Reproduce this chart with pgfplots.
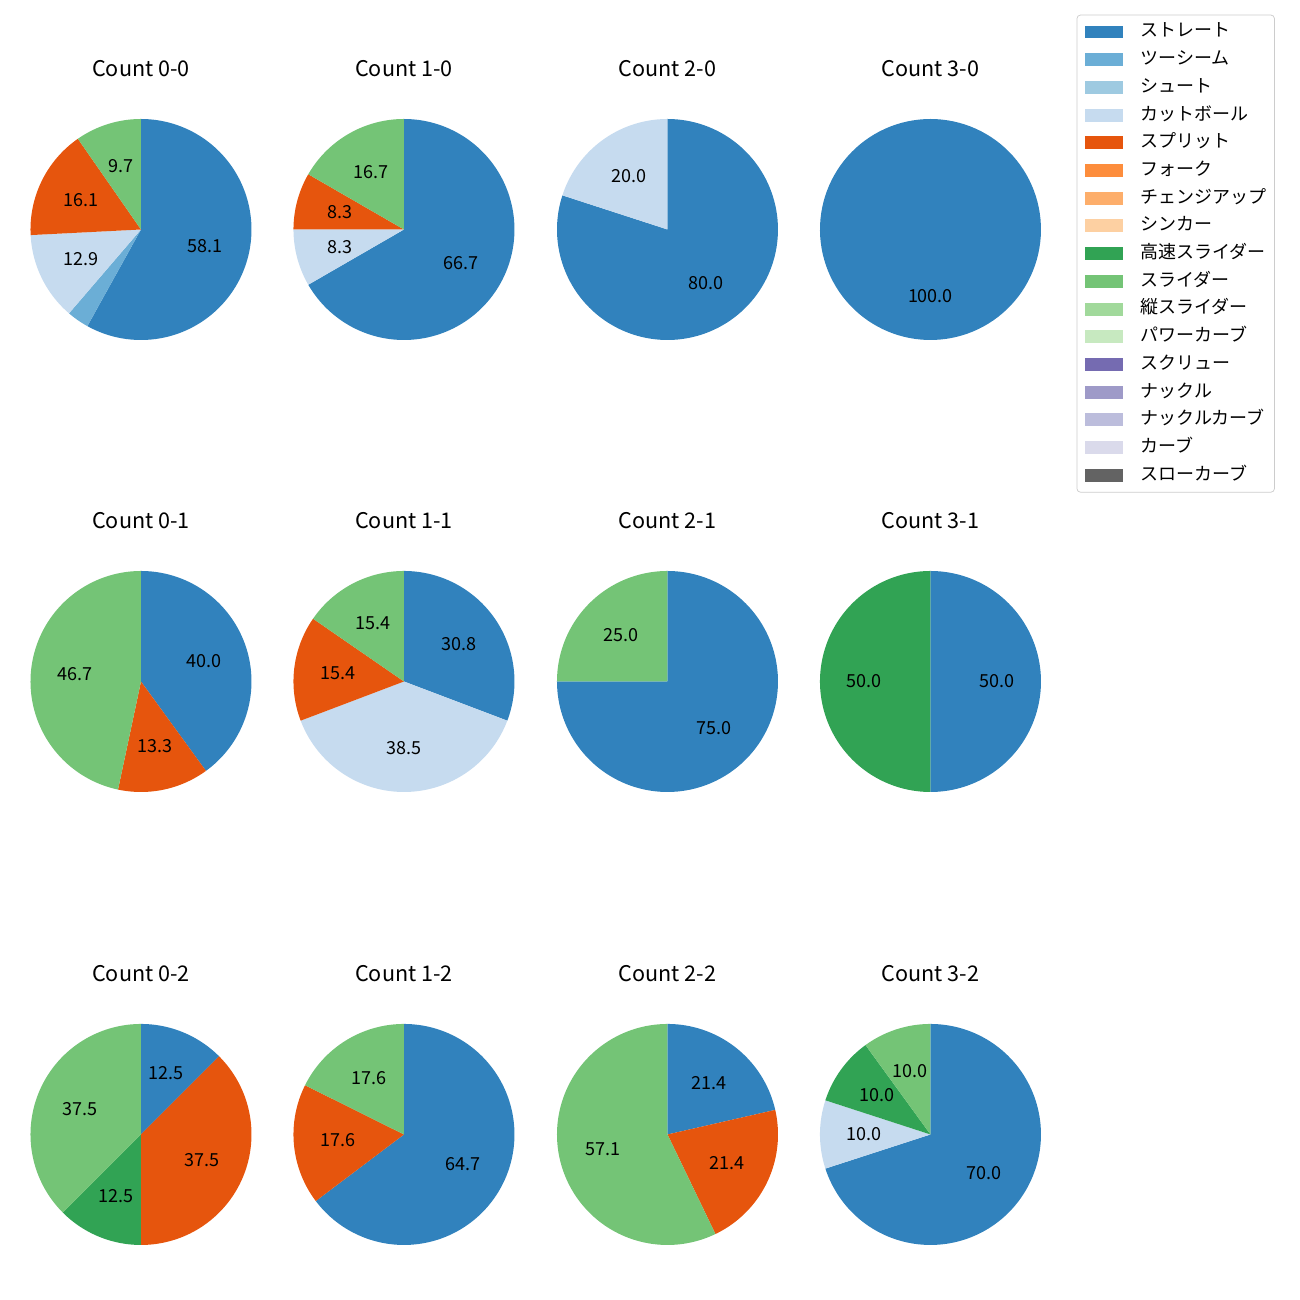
\documentclass[border=0pt]{standalone}
\usepackage{pgfplots}
\pgfplotsset{compat=1.18}
\usepackage{fontspec}
\setmainfont{Noto Sans CJK JP}
\definecolor{cS}{HTML}{3182BD}
\definecolor{cTS}{HTML}{6BAED6}
\definecolor{cSH}{HTML}{9ECAE1}
\definecolor{cCT}{HTML}{C6DBEF}
\definecolor{cSP}{HTML}{E6550D}
\definecolor{cFK}{HTML}{FD8D3C}
\definecolor{cCH}{HTML}{FDAE6B}
\definecolor{cSI}{HTML}{FDD0A2}
\definecolor{cHS}{HTML}{31A354}
\definecolor{cSL}{HTML}{74C476}
\definecolor{cVS}{HTML}{A1D99B}
\definecolor{cPC}{HTML}{C7E9C0}
\definecolor{cSC}{HTML}{756BB1}
\definecolor{cKN}{HTML}{9E9AC8}
\definecolor{cKC}{HTML}{BCBDDC}
\definecolor{cCV}{HTML}{DADAEB}
\definecolor{cSLC}{HTML}{636363}
\newcommand\lbl{\fontsize{10pt}{12pt}\selectfont}
\newcommand\ttl{\fontsize{12pt}{14pt}\selectfont}
% slice: start cumulative %, end cumulative %, colour, label
\newcommand\slice[4]{%
  \addplot[fill=#3, draw=none, domain={90-3.6*(#2)}:{90-3.6*(#1)}, samples=120, variable=\t, forget plot]
    ({cos(\t)},{sin(\t)}) -- (axis cs:0,0) -- cycle;
  \node[font=\lbl, inner sep=0pt] at (axis cs:{0.6*cos(90-1.8*(#1+#2))},{0.6*sin(90-1.8*(#1+#2))}) {#4};
}
\pgfplotsset{
  pie/.style={hide axis, clip=false, x=61.43pt, y=61.43pt,
    xmin=-1, xmax=1, ymin=-1, ymax=1, anchor=center},
}
\newcommand\ttlnode[1]{\node[font=\ttl] at (axis cs:0,1.457) {#1};}
\begin{document}
\begin{tikzpicture}
\useasboundingbox (0,0) rectangle (722.7pt,-722.7pt);
% Row 1
\begin{axis}[pie, at={(78.38pt,-127.58pt)}]
\slice{0}{58.065}{cS}{58.1}
\slice{58.065}{61.290}{cTS}{}
\slice{61.290}{74.194}{cCT}{12.9}
\slice{74.194}{90.323}{cSP}{16.1}
\slice{90.323}{100}{cSL}{9.7}
\ttlnode{Count 0-0}
\end{axis}
\begin{axis}[pie, at={(224.58pt,-127.58pt)}]
\slice{0}{66.667}{cS}{66.7}
\slice{66.667}{75}{cCT}{8.3}
\slice{75}{83.333}{cSP}{8.3}
\slice{83.333}{100}{cSL}{16.7}
\ttlnode{Count 1-0}
\end{axis}
\begin{axis}[pie, at={(371.07pt,-127.58pt)}]
\slice{0}{80}{cS}{80.0}
\slice{80}{100}{cCT}{20.0}
\ttlnode{Count 2-0}
\end{axis}
\begin{axis}[pie, at={(517.27pt,-127.58pt)}]
\slice{0}{100}{cS}{100.0}
\ttlnode{Count 3-0}
\end{axis}
% Row 2
\begin{axis}[pie, at={(78.38pt,-378.85pt)}]
\slice{0}{40}{cS}{40.0}
\slice{40}{53.333}{cSP}{13.3}
\slice{53.333}{100}{cSL}{46.7}
\ttlnode{Count 0-1}
\end{axis}
\begin{axis}[pie, at={(224.58pt,-378.85pt)}]
\slice{0}{30.769}{cS}{30.8}
\slice{30.769}{69.231}{cCT}{38.5}
\slice{69.231}{84.615}{cSP}{15.4}
\slice{84.615}{100}{cSL}{15.4}
\ttlnode{Count 1-1}
\end{axis}
\begin{axis}[pie, at={(371.07pt,-378.85pt)}]
\slice{0}{75}{cS}{75.0}
\slice{75}{100}{cSL}{25.0}
\ttlnode{Count 2-1}
\end{axis}
\begin{axis}[pie, at={(517.27pt,-378.85pt)}]
\slice{0}{50}{cS}{50.0}
\slice{50}{100}{cHS}{50.0}
\ttlnode{Count 3-1}
\end{axis}
% Row 3
\begin{axis}[pie, at={(78.38pt,-630.67pt)}]
\slice{0}{12.5}{cS}{12.5}
\slice{12.5}{50}{cSP}{37.5}
\slice{50}{62.5}{cHS}{12.5}
\slice{62.5}{100}{cSL}{37.5}
\ttlnode{Count 0-2}
\end{axis}
\begin{axis}[pie, at={(224.58pt,-630.67pt)}]
\slice{0}{64.706}{cS}{64.7}
\slice{64.706}{82.353}{cSP}{17.6}
\slice{82.353}{100}{cSL}{17.6}
\ttlnode{Count 1-2}
\end{axis}
\begin{axis}[pie, at={(371.07pt,-630.67pt)}]
\slice{0}{21.429}{cS}{21.4}
\slice{21.429}{42.857}{cSP}{21.4}
\slice{42.857}{100}{cSL}{57.1}
\ttlnode{Count 2-2}
\end{axis}
\begin{axis}[pie, at={(517.27pt,-630.67pt)}]
\slice{0}{70}{cS}{70.0}
\slice{70}{80}{cCT}{10.0}
\slice{80}{90}{cHS}{10.0}
\slice{90}{100}{cSL}{10.0}
\ttlnode{Count 3-2}
\end{axis}
% Legend
\begin{axis}[at={(598.7pt,-8.34pt)}, anchor=north west, hide axis,
  scale only axis, width=1pt, height=1pt, xmin=0, xmax=1, ymin=0, ymax=1,
  legend cell align=left,
  legend image code/.code={\fill[#1, draw=none, sharp corners] (0pt,-3.6pt) rectangle (21pt,3.6pt);
     \path[draw=none, fill=none] (0pt,0pt) -- (31pt,0pt);},
  legend style={at={(0,1)}, anchor=north west, draw=black!20, rounded corners=2pt,
    font=\lbl, outer sep=0pt, inner xsep=4.4pt, inner ysep=4.7pt, row sep=5.9pt,
    nodes={inner sep=0pt, text height=7.5pt, text depth=2pt}},
]
\addlegendimage{fill=cS}\addlegendentry{ストレート}
\addlegendimage{fill=cTS}\addlegendentry{ツーシーム}
\addlegendimage{fill=cSH}\addlegendentry{シュート}
\addlegendimage{fill=cCT}\addlegendentry{カットボール}
\addlegendimage{fill=cSP}\addlegendentry{スプリット}
\addlegendimage{fill=cFK}\addlegendentry{フォーク}
\addlegendimage{fill=cCH}\addlegendentry{チェンジアップ}
\addlegendimage{fill=cSI}\addlegendentry{シンカー}
\addlegendimage{fill=cHS}\addlegendentry{高速スライダー}
\addlegendimage{fill=cSL}\addlegendentry{スライダー}
\addlegendimage{fill=cVS}\addlegendentry{縦スライダー}
\addlegendimage{fill=cPC}\addlegendentry{パワーカーブ}
\addlegendimage{fill=cSC}\addlegendentry{スクリュー}
\addlegendimage{fill=cKN}\addlegendentry{ナックル}
\addlegendimage{fill=cKC}\addlegendentry{ナックルカーブ}
\addlegendimage{fill=cCV}\addlegendentry{カーブ}
\addlegendimage{fill=cSLC}\addlegendentry{スローカーブ}
\end{axis}
\end{tikzpicture}
\end{document}
